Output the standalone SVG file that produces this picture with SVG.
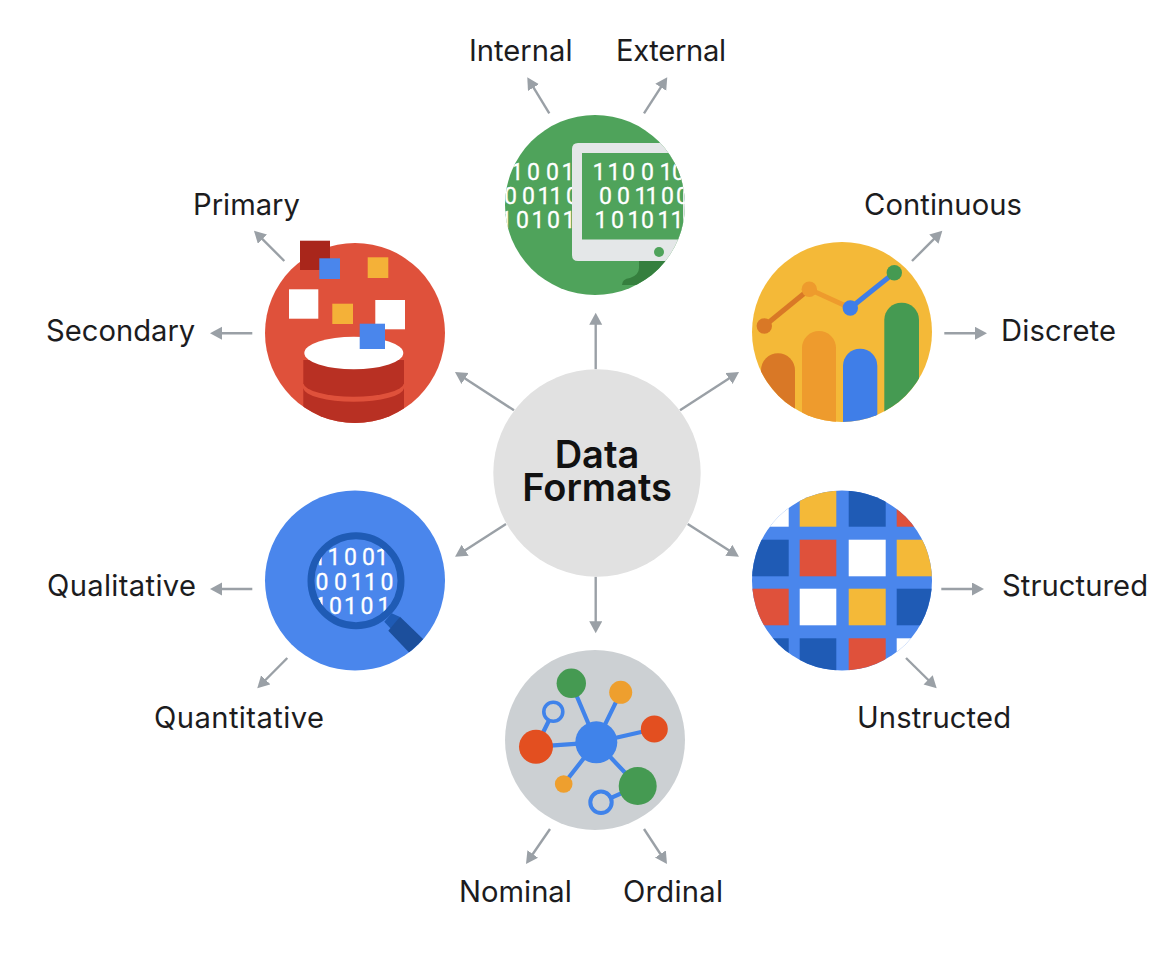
<svg xmlns="http://www.w3.org/2000/svg" width="1160" height="976" viewBox="0 0 1160 976">
<style>
.lbl{font-family:"Inter","Liberation Sans",sans-serif;font-size:29.2px;fill:#1c1c1e}
.ttl{font-family:"Inter","Liberation Sans",sans-serif;font-size:38px;font-weight:600;fill:#111;text-anchor:middle}
.bin{font-family:"Roboto","Liberation Sans",sans-serif;font-size:23px;font-weight:400;fill:#fff;stroke:#fff;stroke-width:.3}
.conn{stroke:#9aa0a6;stroke-width:2.4;fill:none;marker-end:url(#head)}
.link{stroke:#4083ea;stroke-width:4.2;fill:none}
</style>
<defs>
<marker id="head" markerUnits="userSpaceOnUse" markerWidth="14" markerHeight="14" refX="6" refY="6.5" orient="auto"><path d="M0,0L12,6.5L0,13Z" fill="#9aa0a6"/></marker>
<clipPath id="cG"><circle cx="595" cy="205" r="90"/></clipPath>
<clipPath id="cGL"><rect x="505" y="115" width="67" height="180"/></clipPath>
<clipPath id="cR"><circle cx="355" cy="333" r="90"/></clipPath>
<clipPath id="cY"><circle cx="842" cy="332" r="90"/></clipPath>
<clipPath id="cS"><circle cx="842" cy="580.5" r="90"/></clipPath>
<clipPath id="cB"><circle cx="355" cy="580.5" r="90"/></clipPath>
<clipPath id="cL"><circle cx="356" cy="580.7" r="42"/></clipPath>
</defs>
<g id="connectors">
<line class="conn" x1="549.3" y1="113.3" x2="530.4" y2="82.4"/>
<line class="conn" x1="644" y1="113.3" x2="664" y2="82.3"/>
<line class="conn" x1="595.7" y1="369.3" x2="595.7" y2="318.7"/>
<line class="conn" x1="595.7" y1="576.7" x2="595.7" y2="627.3"/>
<line class="conn" x1="514" y1="410.3" x2="460" y2="375.3"/>
<line class="conn" x1="680" y1="410.3" x2="734" y2="375.3"/>
<line class="conn" x1="506" y1="524" x2="460.1" y2="553.5"/>
<line class="conn" x1="687.7" y1="524" x2="733.9" y2="553.5"/>
<line class="conn" x1="284.3" y1="261" x2="258.2" y2="234.9"/>
<line class="conn" x1="252.3" y1="333.3" x2="216" y2="333.3"/>
<line class="conn" x1="252.3" y1="589" x2="216" y2="589"/>
<line class="conn" x1="287.3" y1="658" x2="261.5" y2="684"/>
<line class="conn" x1="912" y1="261" x2="938.1" y2="234.9"/>
<line class="conn" x1="944.3" y1="333.3" x2="981" y2="333.3"/>
<line class="conn" x1="941.3" y1="589" x2="978" y2="589"/>
<line class="conn" x1="906" y1="658" x2="932.4" y2="684"/>
<line class="conn" x1="550" y1="829" x2="529.4" y2="859"/>
<line class="conn" x1="644" y1="829" x2="663.7" y2="859"/>
</g>
<g id="center">
<circle cx="597" cy="473" r="103.7" fill="#e1e1e1"/>
<text class="ttl"><tspan x="597" y="467.5">Data</tspan><tspan x="597" y="501">Formats</tspan></text>
</g>
<g id="node-green">
<circle cx="595" cy="205" r="90" fill="#4fa35b"/>
<g clip-path="url(#cG)">
<g clip-path="url(#cGL)">
<text class="bin"><tspan x="510.5 527 546 561.5" y="180">1001</tspan><tspan x="504 522 537.5 549.5 566" y="203.5">00110</tspan><tspan x="499.5 516 531.5 547 562.5" y="228">10101</tspan></text>
</g>
<path d="M639,261H700V285H622Q622,279 630,278Q639,275 639,268Z" fill="#357f3e"/>
<path d="M578,143H700V261H578Q572,261 572,255V149Q572,143 578,143Z" fill="#e4e7e8"/>
<rect x="582" y="153" width="101" height="86.5" fill="#4fa35b"/>
<text class="bin"><tspan x="592.5 607.5 622 641 659.5 672" y="180">110010</tspan><tspan x="599 617 634.5 645.5 661 676" y="203.5">001100</tspan><tspan x="594.5 611 627.5 641 657.5 670.5" y="228">101011</tspan></text>
<circle cx="659" cy="252" r="5" fill="#4fa35b"/>
</g>
</g>
<g id="node-red">
<circle cx="355" cy="333" r="90" fill="#df513b"/>
<g clip-path="url(#cR)">
<path d="M303.3,388.3A50.4,14 0 0 0 404,388.3V430H303.3Z" fill="#b83023"/>
<path d="M303.3,360H404V383.3A50.4,14 0 0 1 303.3,383.3Z" fill="#b83023"/>
</g>
<ellipse cx="353.8" cy="353" rx="49.5" ry="16.3" fill="#fff"/>
<rect x="300" y="240.7" width="30" height="29.3" fill="#a9261b"/>
<rect x="319.3" y="258.3" width="20.7" height="20.7" fill="#4a86ec"/>
<rect x="367.7" y="257.3" width="20.6" height="20.7" fill="#f4b138"/>
<rect x="289" y="289.3" width="29.3" height="29.4" fill="#fff"/>
<rect x="332.3" y="303.7" width="20.7" height="20.3" fill="#f4b138"/>
<rect x="375.3" y="300" width="29.7" height="29.3" fill="#fff"/>
<rect x="359.7" y="323.7" width="25.3" height="25.3" fill="#4a86ec"/>
</g>
<g id="node-yellow">
<circle cx="842" cy="332" r="90" fill="#f4b938"/>
<g clip-path="url(#cY)">
<rect x="761" y="353.3" width="34" height="90" rx="17" fill="#d97826"/>
<rect x="802" y="331" width="34" height="110" rx="17" fill="#ee9b2d"/>
<rect x="843" y="348.7" width="34.3" height="90" rx="17" fill="#3f7ee8"/>
<rect x="884.3" y="302.7" width="34.7" height="140" rx="17" fill="#459a52"/>
</g>
<line x1="764.3" y1="326" x2="809.3" y2="289.3" stroke="#d97826" stroke-width="5"/>
<line x1="809.3" y1="289.3" x2="850.3" y2="308" stroke="#ee9b2d" stroke-width="5"/>
<line x1="850.3" y1="308" x2="894.3" y2="272.7" stroke="#3f7ee8" stroke-width="5"/>
<circle cx="764.3" cy="326" r="7.7" fill="#d97826"/>
<circle cx="809.3" cy="289.3" r="7.7" fill="#ee9b2d"/>
<circle cx="850.3" cy="308" r="7.7" fill="#3f7ee8"/>
<circle cx="894.3" cy="272.7" r="7.7" fill="#459a52"/>
</g>
<g id="node-grid">
<g clip-path="url(#cS)">
<rect x="752" y="490" width="181" height="181" fill="#4a86ec"/>
<rect x="752" y="490" width="36.7" height="36.7" fill="#fff"/>
<rect x="896.7" y="638.3" width="36" height="33" fill="#fff"/>
<rect x="799.7" y="491" width="36.6" height="35.7" fill="#f4b938"/>
<rect x="848.7" y="491" width="37" height="35.7" fill="#1f5bb5"/>
<rect x="896.7" y="491" width="36" height="35.7" fill="#df513b"/>
<rect x="752" y="539.7" width="36.7" height="36.6" fill="#1f5bb5"/>
<rect x="799.7" y="539.7" width="36.6" height="36.6" fill="#df513b"/>
<rect x="848.7" y="539.7" width="37" height="36.6" fill="#fff"/>
<rect x="896.7" y="539.7" width="36" height="36.6" fill="#f4b938"/>
<rect x="752" y="588.7" width="36.7" height="36.6" fill="#df513b"/>
<rect x="799.7" y="588.7" width="36.6" height="36.6" fill="#fff"/>
<rect x="848.7" y="588.7" width="37" height="36.6" fill="#f4b938"/>
<rect x="896.7" y="588.7" width="36" height="36.6" fill="#1f5bb5"/>
<rect x="752" y="638.3" width="36.7" height="33" fill="#1f5bb5"/>
<rect x="799.7" y="638.3" width="36.6" height="33" fill="#1f5bb5"/>
<rect x="848.7" y="638.3" width="37" height="33" fill="#df513b"/>
</g>
</g>
<g id="node-blue">
<circle cx="355" cy="580.5" r="90" fill="#4a86ec"/>
<g clip-path="url(#cL)">
<text class="bin"><tspan x="313 327.5 344 362 375.5" y="565">11001</tspan><tspan x="315.5 334 350.5 364 380.5" y="590">00110</tspan><tspan x="314 329 344 360.5 377.5" y="614.3">10101</tspan></text>
</g>
<g clip-path="url(#cB)">
<path d="M391.7,613.3L384.3,621.7L392,630L400,617Z" fill="#1f5bb5"/>
<path d="M400,616.7L423.3,639.3L409.3,652.7L388.3,630.7Z" fill="#1c4f9c"/>
</g>
<circle cx="356" cy="580.7" r="45" fill="none" stroke="#1f5bb5" stroke-width="7"/>
</g>
<g id="node-network">
<circle cx="595" cy="740" r="90" fill="#ccd0d3"/>
<path class="link" d="M596.3,742.3L571.3,683.3M596.3,742.3L620.7,692.3M596.3,742.3L654.3,729M596.3,742.3L637.7,786M596.3,742.3L563.7,784M596.3,742.3L536,746.7M536,746.7L553.3,711.7M637.7,786L601,802.3"/>
<circle cx="596.3" cy="742.3" r="21" fill="#4083ea"/>
<circle cx="571.3" cy="683.3" r="14.7" fill="#459a52"/>
<circle cx="620.7" cy="692.3" r="11.5" fill="#ee9f2e"/>
<circle cx="654.3" cy="729" r="13.5" fill="#e34f20"/>
<circle cx="637.7" cy="786" r="19" fill="#459a52"/>
<circle cx="563.7" cy="784" r="8.8" fill="#ee9f2e"/>
<circle cx="536" cy="746.7" r="17" fill="#e34f20"/>
<circle cx="553.3" cy="711.7" r="9.5" fill="#ccd0d3" stroke="#4083ea" stroke-width="3.6"/>
<circle cx="601" cy="802.3" r="10.7" fill="#ccd0d3" stroke="#4083ea" stroke-width="4"/>
</g>
<g id="labels">
<text class="lbl" x="469" y="60.7">Internal</text>
<text class="lbl" x="616" y="60.7" textLength="110">External</text>
<text class="lbl" x="193" y="215">Primary</text>
<text class="lbl" x="46" y="340.7">Secondary</text>
<text class="lbl" x="47" y="596" textLength="149">Qualitative</text>
<text class="lbl" x="154" y="728.3" textLength="170">Quantitative</text>
<text class="lbl" x="864" y="215" textLength="158">Continuous</text>
<text class="lbl" x="1001" y="340.7" textLength="115">Discrete</text>
<text class="lbl" x="1002" y="596" textLength="146">Structured</text>
<text class="lbl" x="857" y="728.3" textLength="154">Unstructed</text>
<text class="lbl" x="459" y="902">Nominal</text>
<text class="lbl" x="623" y="902" textLength="100">Ordinal</text>
</g>
</svg>
